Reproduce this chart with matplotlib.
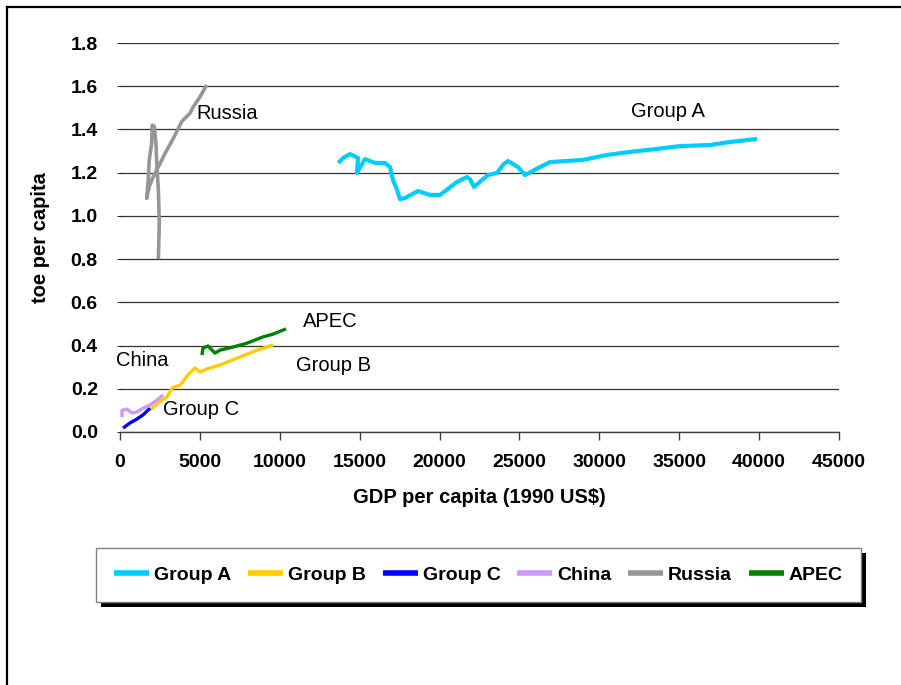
import matplotlib.pyplot as plt
from matplotlib.patches import Rectangle
from matplotlib.lines import Line2D

plt.rcParams['font.family'] = ['Liberation Sans', 'DejaVu Sans']

# GDP per capita (1990 US$) / toe per capita
group_a_x = [13650, 14000, 14400, 14900, 14830, 15330, 15960, 16590, 16900, 17090,
             17340, 17520, 17840, 18650, 19400, 20030, 21090, 21720, 21900, 22160,
             22660, 23030, 23600, 23970, 24280, 24910, 25350, 26290, 26910, 27980,
             28980, 30480, 31920, 33610, 35050, 36930, 38180, 39870]
group_a_y = [1.245, 1.27, 1.286, 1.268, 1.199, 1.263, 1.245, 1.245, 1.226, 1.166,
             1.12, 1.078, 1.083, 1.115, 1.097, 1.097, 1.157, 1.18, 1.17, 1.134,
             1.166, 1.189, 1.199, 1.236, 1.254, 1.226, 1.189, 1.226, 1.249, 1.254,
             1.259, 1.282, 1.296, 1.31, 1.323, 1.328, 1.342, 1.356]

group_b_x = [1880, 2380, 2940, 3260, 3760, 4260, 4690, 5010, 5450, 6260, 7510, 8580, 9200, 9580]
group_b_y = [0.102, 0.134, 0.162, 0.204, 0.217, 0.264, 0.296, 0.278, 0.292, 0.31, 0.347, 0.379, 0.393, 0.403]

group_c_x = [190, 630, 1060, 1440, 1880]
group_c_y = [0.018, 0.042, 0.06, 0.079, 0.11]

china_x = [125, 125, 440, 750, 1060, 1440, 1880, 2320, 2690]
china_y = [0.069, 0.10, 0.106, 0.088, 0.093, 0.11, 0.125, 0.148, 0.171]

russia_x = [2400, 2460, 2400, 2300, 2250, 2150, 2020, 1980, 1830, 1770, 1670, 1830,
            2080, 2400, 2820, 3340, 3860, 4380, 4590, 5010, 5430]
russia_y = [0.80, 0.966, 1.12, 1.243, 1.336, 1.413, 1.42, 1.336, 1.258, 1.166, 1.081, 1.135,
            1.181, 1.227, 1.289, 1.359, 1.436, 1.475, 1.505, 1.551, 1.606]

apec_x = [5130, 5200, 5510, 5760, 5950, 6260, 7070, 7950, 8950, 9580, 10390]
apec_y = [0.356, 0.389, 0.398, 0.379, 0.365, 0.379, 0.393, 0.411, 0.44, 0.453, 0.477]

x_ticks = [0, 5000, 10000, 15000, 20000, 25000, 30000, 35000, 40000, 45000]
y_ticks = [0.0, 0.2, 0.4, 0.6, 0.8, 1.0, 1.2, 1.4, 1.6, 1.8]

fig = plt.figure(figsize=(9.01, 6.85), dpi=100)
ax = fig.add_axes([120 / 901, 1 - 432 / 685, 719 / 901, 389 / 685])

# 系列を描画
series = [
    ('Group A', group_a_x, group_a_y, '#00CCFF', 3.0),
    ('Group B', group_b_x, group_b_y, '#FFCC00', 2.4),
    ('Group C', group_c_x, group_c_y, '#0000FF', 2.4),
    ('China', china_x, china_y, '#CC99FF', 2.4),
    ('Russia', russia_x, russia_y, '#969696', 2.6),
    ('APEC', apec_x, apec_y, '#008000', 2.4),
]
for name, xs, ys, col, lw in series:
    ax.plot(xs, ys, color=col, lw=lw, label=name, solid_capstyle='butt', zorder=3)

ax.set_xlim(0, 45000)
ax.set_ylim(0, 1.8)
ax.set_xticks(x_ticks)
ax.set_xticklabels([str(t) for t in x_ticks])
ax.set_yticks(y_ticks)
ax.set_yticklabels(['%.1f' % t for t in y_ticks])
ax.tick_params(axis='both', labelsize=14)
for lab in ax.get_xticklabels() + ax.get_yticklabels():
    lab.set_fontweight('bold')
ax.tick_params(axis='x', direction='out', length=6, width=1, color='#404040', pad=10)
ax.tick_params(axis='y', length=2, width=0.6, pad=14)

ax.grid(axis='y', color='#333333', lw=0.9)
ax.set_axisbelow(True)
for s in ['top', 'right', 'left']:
    ax.spines[s].set_visible(False)
ax.spines['bottom'].set_color('#404040')
ax.spines['bottom'].set_linewidth(1)

ax.set_xlabel('GDP per capita (1990 US$)', fontsize=14.5, fontweight='bold', labelpad=12)
ax.set_ylabel('toe per capita', fontsize=14.5, fontweight='bold', labelpad=15)

# 系列名ラベル
ax.text(34300, 1.485, 'Group A', fontsize=14.5, ha='center', va='center')
ax.text(4757, 1.476, 'Russia', fontsize=14.5, ha='left', va='center')
ax.text(13143, 0.509, 'APEC', fontsize=14.5, ha='center', va='center')
ax.text(13362, 0.31, 'Group B', fontsize=14.5, ha='center', va='center')
ax.text(1377, 0.329, 'China', fontsize=14.5, ha='center', va='center')
ax.text(5101, 0.106, 'Group C', fontsize=14.5, ha='center', va='center')

leg = fig.legend(loc='center', bbox_to_anchor=((100 + 857) / 2 / 901, 1 - 575 / 685),
                 ncol=6, prop={'size': 14, 'weight': 'bold'}, handlelength=1.8,
                 handletextpad=0.25, columnspacing=0.86, fancybox=False,
                 borderpad=0.95, borderaxespad=0, framealpha=1)
leg.get_frame().set_edgecolor('#808080')
leg.get_frame().set_facecolor('white')
leg.get_frame().set_linewidth(1)
leg.set_zorder(5)
for h in leg.get_lines():
    h.set_linewidth(4)

# 凡例の影
fig.canvas.draw()
bb = leg.get_window_extent().transformed(fig.transFigure.inverted())
dx, dy = 5 / 901, 5 / 685
fig.patches.append(Rectangle((bb.x0 + dx, bb.y0 - dy), bb.width, bb.height,
                             transform=fig.transFigure, facecolor='black',
                             edgecolor='none', zorder=4))

# 外枠 (左と上)
fig.lines.append(Line2D([7 / 901, 7 / 901], [0, 1 - 7 / 685], transform=fig.transFigure,
                        color='black', lw=1.6))
fig.lines.append(Line2D([7 / 901, 1], [1 - 7 / 685, 1 - 7 / 685], transform=fig.transFigure,
                        color='black', lw=1.6))

fig.savefig('out.png', dpi=100)
